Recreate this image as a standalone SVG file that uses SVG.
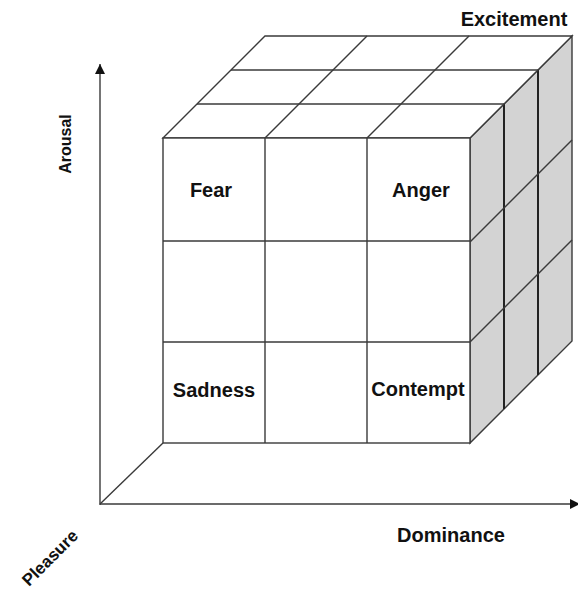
<svg xmlns="http://www.w3.org/2000/svg" width="578" height="592" viewBox="0 0 578 592">
<style>
.ln{stroke:#3a3a3a;stroke-width:1.4;fill:none}
.dk{stroke:#222;stroke-width:2;fill:none}
.lbl{font-family:"Liberation Sans",Arial,sans-serif;font-weight:bold;font-size:20px;fill:#111;text-anchor:middle}
</style>
<defs>
<marker id="ah" viewBox="0 0 10 10" refX="10" refY="5" markerWidth="10" markerHeight="10" markerUnits="userSpaceOnUse" orient="auto">
<path d="M0,0 L10,5 L0,10 Z" fill="#111"/>
</marker>
</defs>
<rect width="578" height="592" fill="#fff"/>
<g id="axes">
<line class="ln" x1="100" y1="505" x2="100" y2="64" marker-end="url(#ah)"/>
<line class="ln" x1="100" y1="504" x2="580" y2="504" marker-end="url(#ah)"/>
<line class="ln" x1="100" y1="504" x2="163" y2="443"/>
</g>
<g id="cube">
<g id="right-face">
<polygon points="470,138 572,36 572,341 470,443" fill="#d3d3d3" stroke="#3a3a3a" stroke-width="1.4"/>
<line class="dk" x1="504" y1="104" x2="504" y2="409"/>
<line class="dk" x1="538" y1="70" x2="538" y2="375"/>
<line class="ln" x1="470" y1="242" x2="572" y2="140"/>
<line class="ln" x1="470" y1="342" x2="572" y2="240"/>
</g>
<g id="top-face">
<polygon points="163,138 265,36 572,36 470,138" fill="#fff" stroke="#3a3a3a" stroke-width="1.4"/>
<line class="ln" x1="197" y1="104" x2="504" y2="104"/>
<line class="ln" x1="231" y1="70" x2="538" y2="70"/>
<line class="ln" x1="265" y1="138" x2="367" y2="36"/>
<line class="ln" x1="367" y1="138" x2="469" y2="36"/>
</g>
<g id="front-face">
<rect x="163" y="138" width="307" height="305" fill="#fff" stroke="#3a3a3a" stroke-width="1.4"/>
<line class="ln" x1="265" y1="138" x2="265" y2="443"/>
<line class="ln" x1="367" y1="138" x2="367" y2="443"/>
<line class="ln" x1="163" y1="241" x2="470" y2="241"/>
<line class="ln" x1="163" y1="342" x2="470" y2="342"/>
</g>
</g>
<g id="fear"><text class="lbl" x="211" y="197">Fear</text></g>
<g id="anger"><text class="lbl" x="421" y="197">Anger</text></g>
<g id="sadness"><text class="lbl" x="214" y="397">Sadness</text></g>
<g id="contempt"><text class="lbl" x="418" y="396">Contempt</text></g>
<g id="excitement"><text class="lbl" x="514" y="26">Excitement</text></g>
<g id="dominance"><text class="lbl" x="451" y="542">Dominance</text></g>
<g id="arousal"><text class="lbl" style="font-size:16px" transform="translate(71,144) rotate(-90)">Arousal</text></g>
<g id="pleasure"><text class="lbl" style="font-size:17px" transform="translate(54,562) rotate(-45)">Pleasure</text></g>
</svg>
